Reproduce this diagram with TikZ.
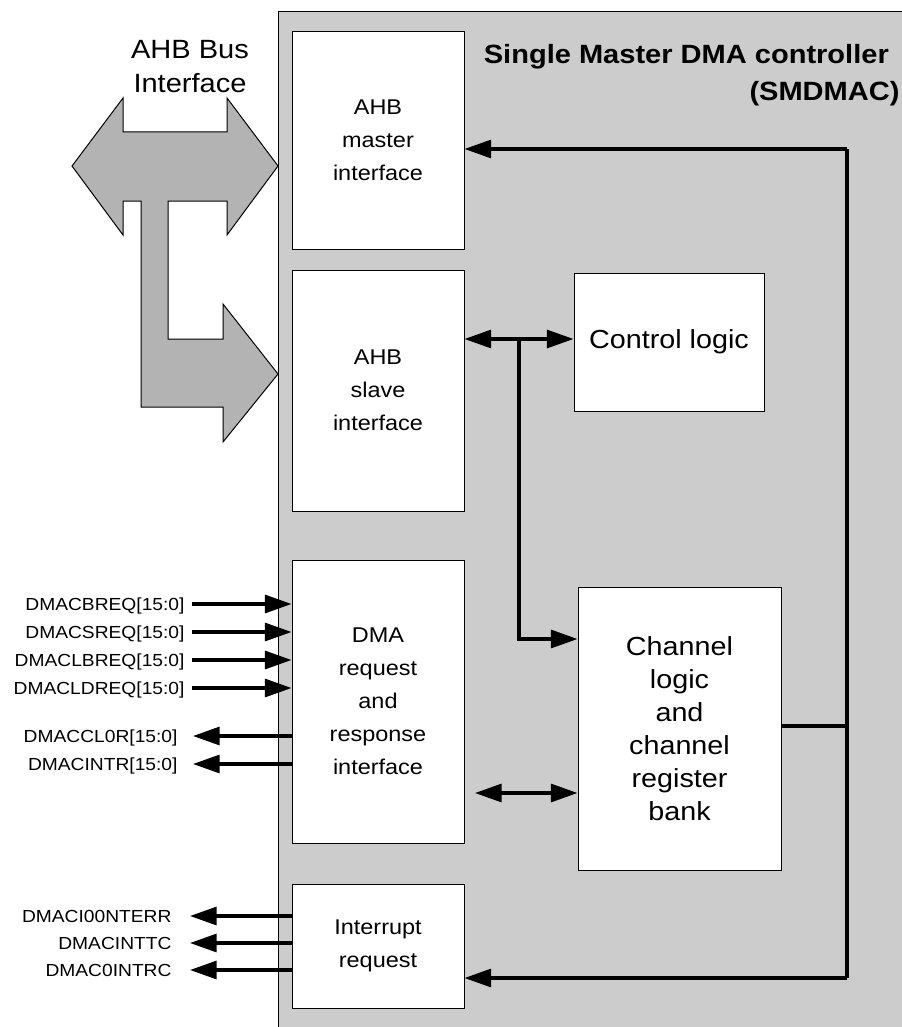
\documentclass[tikz,border=0pt]{standalone}
\usepackage{fontspec}
\setmainfont[FakeStretch=1.1]{Liberation Sans}
\usetikzlibrary{arrows.meta}
\definecolor{framegray}{RGB}{204,204,204}
\definecolor{busgray}{RGB}{179,179,179}
\tikzset{every picture/.style={line width=0.75pt}}
\tikzset{
	block/.style={draw, fill=white, align=center, inner sep=0pt, font=\fontsize{16}{24.75}\selectfont},
	bigblock/.style={block, font=\fontsize{19.6}{24.75}\selectfont},
	sig/.style={line width=2.4pt, -{Triangle[length=20pt,width=13.5pt]}},
	sigboth/.style={line width=2.4pt, {Triangle[length=20pt,width=13.5pt]}-{Triangle[length=20pt,width=13.5pt]}},
	sigtext/.style={anchor=east, inner sep=0pt, text height=9.4pt, text depth=0pt, font=\fontsize{13.1}{15}\selectfont},
}

\begin{document}
\begin{tikzpicture}[x=0.75pt,y=0.75pt,yscale=-1,xscale=1]
	\useasboundingbox (0,0) rectangle (901,1027);

	% Controller frame
	\draw [fill=framegray] (278,12) rectangle (912,1040);
	% Text Node
	\node (title) [anchor=north east, align=right, inner sep=0pt, font=\bfseries\fontsize{19.8}{27.75}\selectfont] at (900,44) {Single Master DMA controller\hspace*{8pt}\\(SMDMAC)};

	% Shape: AHB bus arrows
	\draw [fill=busgray] (72,166) -- (123,98) -- (123,132) -- (227,132) -- (227,98) -- (278,166) -- (227,235) -- (227,201) -- (168,201) -- (168,339) -- (223,339) -- (223,304) -- (278,374) -- (223,442) -- (223,407) -- (141,407) -- (141,201) -- (123,201) -- (123,235) -- cycle ;
	% Text Node
	\node (bus) [align=center, inner sep=0pt, font=\fontsize{19.8}{25.5}\selectfont] at (190,67) {AHB Bus\\Interface};

	% Blocks
	\node (master) [block, minimum width=129pt, minimum height=162.75pt] at (378,140.5) {AHB\\master\\interface};
	\node (slave) [block, minimum width=129pt, minimum height=180.75pt] at (378,390.5) {AHB\\slave\\interface};
	\node (ctrl) [bigblock, minimum width=142.5pt, minimum height=103.5pt] at (669,342) {Control logic};
	\node (dma) [block, minimum width=129pt, minimum height=212.25pt] at (378,701.5) {DMA\\request\\and\\response\\interface};
	\node (chan) [bigblock, minimum width=152.25pt, minimum height=212.25pt] at (679.5,728.5) {Channel\\logic\\and\\channel\\register\\bank};
	\node (intr) [block, minimum width=129pt, minimum height=93pt] at (378,946) {Interrupt\\request};

	% Internal bus
	\coordinate (tap) at (519,339);
	\draw [sigboth] (slave.east |- tap) -- (ctrl.west |- tap);
	\draw [sig] (tap) |- (chan.west |- 0,639);
	\coordinate (dmaport) at (475,793);
	\draw [sigboth] (dmaport) -- (chan.west |- dmaport);

	% Feedback line
	\coordinate (fbtop) at (847,149);
	\coordinate (fbbot) at (847,978);
	\draw [sig] (fbtop) -- (master.east |- fbtop);
	\draw [line width=2.4pt] (fbtop) -- (fbbot);
	\draw [sig] (fbbot) -- (intr.east |- fbbot);
	\draw [line width=2.4pt] (chan.east |- 0,726) -- (fbtop |- 0,726);

	% Request inputs
	\foreach \txt/\y [count=\i] in {DMACBREQ[15:0]/604,DMACSREQ[15:0]/632,DMACLBREQ[15:0]/660,DMACLDREQ[15:0]/688}{
		\node (req\i) [sigtext] at (185,\y) {\txt};
		\draw [sig] ([xshift=5.25pt]req\i.east) -- (dma.west |- req\i.east);
	}
	% Response outputs
	\foreach \txt/\y [count=\i] in {DMACCL0R[15:0]/736,DMACINTR[15:0]/764}{
		\node (rsp\i) [sigtext] at (178,\y) {\txt};
		\draw [sig] (dma.west |- rsp\i.east) -- ([xshift=11.25pt]rsp\i.east);
	}
	% Interrupt outputs
	\foreach \txt/\y [count=\i] in {DMACI00NTERR/916,DMACINTTC/943,DMAC0INTRC/970}{
		\node (irq\i) [sigtext] at (172,\y) {\txt};
		\draw [sig] (intr.west |- irq\i.east) -- ([xshift=13.5pt]irq\i.east);
	}

\end{tikzpicture}
\end{document}
